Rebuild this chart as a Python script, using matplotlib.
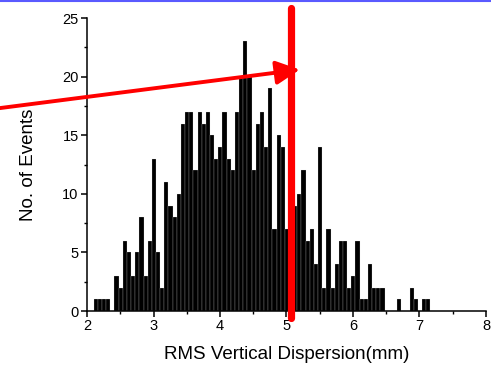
import numpy as np
import matplotlib.pyplot as plt
from matplotlib.lines import Line2D
from matplotlib.ticker import MultipleLocator

plt.rcParams['font.family'] = ['Liberation Sans', 'DejaVu Sans']

# Data: histogram of RMS vertical dispersion (bin width 0.0625 mm from 2.1 mm)
bin_start = 2.1
bin_width = 0.0625
counts = [1, 1, 1, 1, 0, 3, 2, 6, 5, 3,
          5, 8, 3, 6, 13, 5, 2, 11, 9, 8,
          10, 16, 17, 17, 12, 17, 16, 17, 15, 13,
          14, 17, 13, 12, 17, 20, 23, 20, 12, 16,
          17, 14, 19, 7, 15, 14, 7, 12, 9, 10,
          12, 6, 7, 4, 14, 2, 7, 2, 4, 6,
          6, 2, 3, 6, 1, 1, 4, 2, 2, 2,
          0, 0, 0, 1, 0, 0, 2, 1, 0, 1, 1]
cut_x = 5.07
arrow_from = (0.6, 17.25)
arrow_to = (5.2, 20.6)

edges = bin_start + bin_width * np.arange(len(counts))

fig = plt.figure(figsize=(4.91, 3.74), dpi=100)
ax = fig.add_axes([0.1772, 0.1684, 0.8126, 0.7834])

ax.bar(edges, counts, width=bin_width, align='edge', color='black',
       edgecolor='#e8e8e8', linewidth=0.15)

ax.set_xlim(2, 8)
ax.set_ylim(0, 25)
ax.xaxis.set_major_locator(MultipleLocator(1))
ax.xaxis.set_minor_locator(MultipleLocator(0.5))
ax.yaxis.set_major_locator(MultipleLocator(5))
ax.yaxis.set_minor_locator(MultipleLocator(2.5))
ax.tick_params(which='major', length=4, width=1.1, labelsize=10.5, pad=2)
ax.tick_params(which='minor', length=2.5, width=1.0)
for s in ['top', 'right']:
    ax.spines[s].set_visible(False)
for s in ['left', 'bottom']:
    ax.spines[s].set_linewidth(1.1)

ax.set_xlabel('RMS Vertical Dispersion(mm)', fontsize=13.5, labelpad=9)
ax.set_ylabel('No. of Events', fontsize=13.5, labelpad=18)

# red markers
ax.plot([cut_x, cut_x], [-0.6, 25.85], color='red', lw=5.2,
        solid_capstyle='round', clip_on=False, zorder=5)
ax.annotate('', xy=arrow_to, xytext=arrow_from, annotation_clip=False,
            arrowprops=dict(arrowstyle='-|>', color='red', lw=2.8,
                            mutation_scale=36, shrinkA=0, shrinkB=0),
            zorder=6)

# blue rule along the top
fig.add_artist(Line2D([0, 1], [0.996, 0.996], color='#5a5aff', lw=1.5,
                      transform=fig.transFigure))

plt.savefig('out.png', dpi=100)
